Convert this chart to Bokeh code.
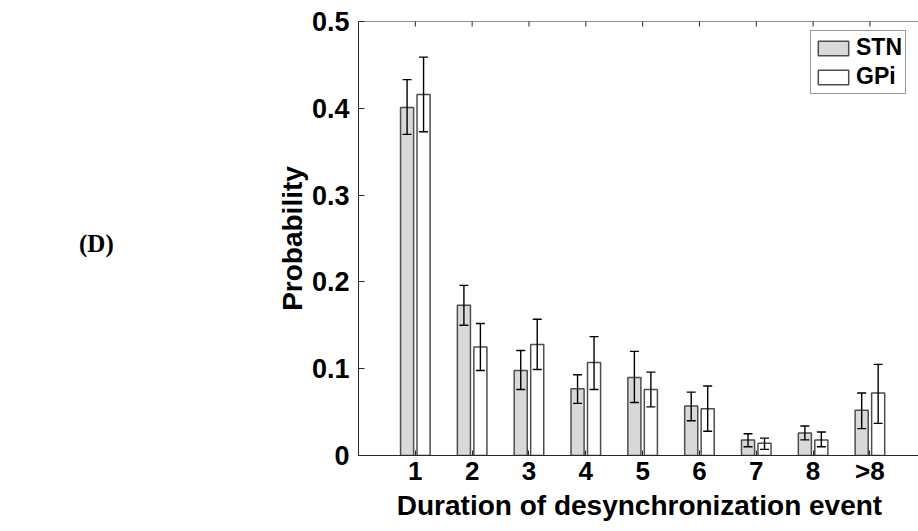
import numpy as np
from bokeh.plotting import figure
from bokeh.layouts import row
from bokeh.models import (ColumnDataSource, Whisker, TeeHead, FixedTicker, Span,
                          Legend, LegendItem, Range1d, Div)
from bokeh.embed import file_html
from bokeh.resources import INLINE

categories = ["1", "2", "3", "4", "5", "6", "7", "8", ">8"]
stn_mean = [0.401, 0.173, 0.098, 0.077, 0.090, 0.057, 0.018, 0.026, 0.052]
stn_upper = [0.433, 0.196, 0.121, 0.093, 0.120, 0.073, 0.025, 0.034, 0.072]
stn_lower = [0.370, 0.150, 0.076, 0.060, 0.061, 0.040, 0.010, 0.018, 0.031]
gpi_mean = [0.416, 0.125, 0.128, 0.107, 0.076, 0.054, 0.014, 0.018, 0.072]
gpi_upper = [0.459, 0.152, 0.157, 0.137, 0.096, 0.080, 0.020, 0.027, 0.105]
gpi_lower = [0.373, 0.098, 0.099, 0.076, 0.056, 0.028, 0.007, 0.010, 0.037]
y_ticks = [0, 0.1, 0.2, 0.3, 0.4, 0.5]
y_max = 0.5

pos = np.arange(1, len(categories) + 1)
off = 0.145
bw = 0.23

stn_src = ColumnDataSource(dict(x=pos - off, top=stn_mean, up=stn_upper, lo=stn_lower))
gpi_src = ColumnDataSource(dict(x=pos + off, top=gpi_mean, up=gpi_upper, lo=gpi_lower))
top_src = ColumnDataSource(dict(x=pos, y=[y_max] * len(pos)))

FONT = "Liberation Sans"
AX = "#262626"
DIVW = 250

p = figure(width=910 - DIVW, height=523, output_backend="svg", toolbar_location=None,
           x_range=Range1d(0, 9.89), y_range=Range1d(0, y_max),
           min_border_left=348 - DIVW, min_border_right=0, min_border_top=21, min_border_bottom=60)
p.outline_line_color = None
p.xgrid.visible = False
p.ygrid.visible = False

r_stn = p.vbar(x="x", top="top", width=bw, source=stn_src, fill_color="#d9d9d9",
               line_color="#4d4d4d", line_width=1.5)
r_gpi = p.vbar(x="x", top="top", width=bw, source=gpi_src, fill_color="white",
               line_color="#4d4d4d", line_width=1.5)

for src in (stn_src, gpi_src):
    w = Whisker(base="x", upper="up", lower="lo", source=src, line_color="black", line_width=1.4,
                level="annotation",
                upper_head=TeeHead(size=9, line_color="black", line_width=1.4),
                lower_head=TeeHead(size=9, line_color="black", line_width=1.4))
    p.add_layout(w)

# top frame line with inward ticks
p.add_layout(Span(location=y_max, dimension="width", line_color=AX, line_width=1))
p.scatter(x="x", y="y", source=top_src, marker="dash", angle=np.pi / 2, size=10,
          line_color=AX, line_width=1)

# x axis
xa = p.xaxis[0]
xa.ticker = FixedTicker(ticks=list(pos))
xa.major_label_overrides = {int(v): c for v, c in zip(pos, categories)}
xa.major_tick_in = 5
xa.major_tick_out = 0
xa.minor_tick_line_color = None
xa.axis_line_color = AX
xa.major_tick_line_color = AX
xa.major_label_text_font = FONT
xa.major_label_text_font_style = "bold"
xa.major_label_text_font_size = "26px"
xa.major_label_text_color = "black"
xa.major_label_standoff = 0
xa.axis_label = "Duration of desynchronization event"
xa.axis_label_text_font = FONT
xa.axis_label_text_font_style = "bold"
xa.axis_label_text_font_size = "28px"
xa.axis_label_text_color = "black"
xa.axis_label_standoff = 1

# y axis
ya = p.yaxis[0]
ya.ticker = FixedTicker(ticks=y_ticks)
ya.major_label_overrides = {0: "0", 0.1: "0.1", 0.2: "0.2", 0.3: "0.3", 0.4: "0.4", 0.5: "0.5"}
ya.major_tick_in = 6
ya.major_tick_out = 0
ya.minor_tick_line_color = None
ya.axis_line_color = AX
ya.major_tick_line_color = AX
ya.major_label_text_font = FONT
ya.major_label_text_font_style = "bold"
ya.major_label_text_font_size = "27px"
ya.major_label_text_color = "black"
ya.major_label_standoff = 9
ya.axis_label = "Probability"
ya.axis_label_text_font = FONT
ya.axis_label_text_font_style = "bold"
ya.axis_label_text_font_size = "28px"
ya.axis_label_text_color = "black"
ya.axis_label_standoff = 1

legend = Legend(items=[LegendItem(label="STN", renderers=[r_stn]),
                       LegendItem(label="GPi", renderers=[r_gpi])],
                location=(452, 361), glyph_width=38, glyph_height=18, label_height=24,
                label_standoff=4, spacing=2, padding=3, margin=0,
                label_text_font=FONT, label_text_font_style="bold", label_text_font_size="23px",
                label_text_color="black", border_line_color="#333333", border_line_width=1,
                background_fill_alpha=1.0)
p.add_layout(legend)

div = Div(text='<div style="margin-left:74px;margin-top:221px;">(D)</div>',
          width=DIVW, height=523,
          styles={"font-family": "Liberation Serif", "font-weight": "bold",
                  "font-size": "25px", "color": "black"})

layout = row(div, p, spacing=0)
open("out.html", "w").write(file_html(layout, INLINE))
